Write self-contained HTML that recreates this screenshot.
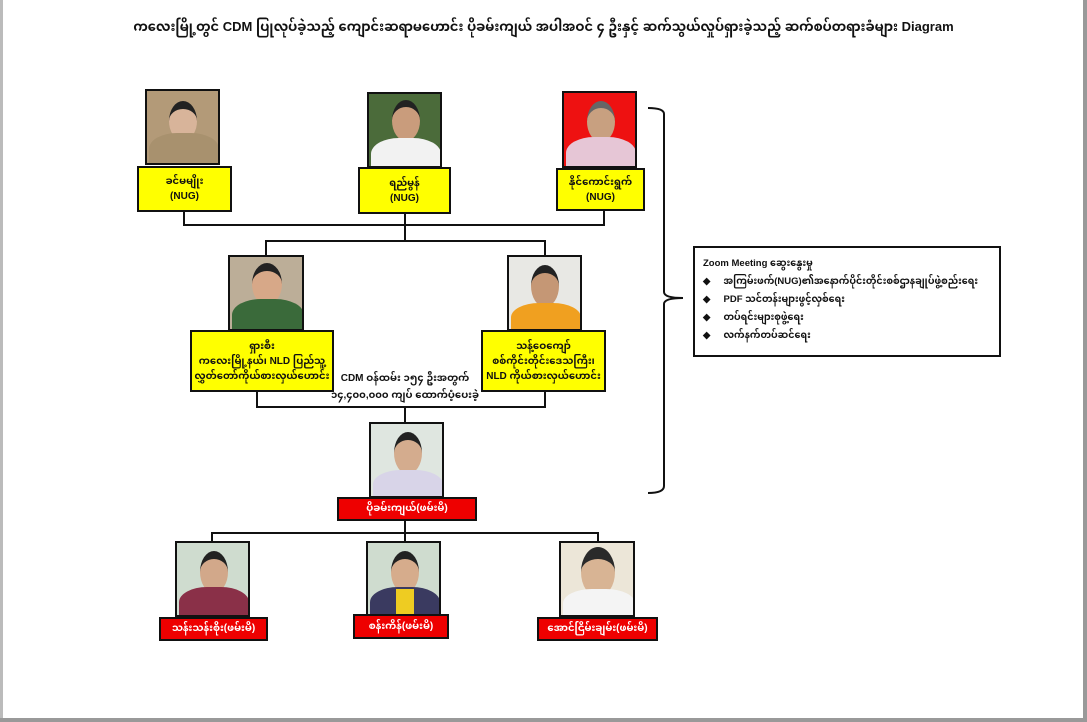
<!DOCTYPE html>
<html><head><meta charset="utf-8">
<style>
body{margin:0;width:1087px;height:722px;background:#fff;position:relative;overflow:hidden;font-family:"Liberation Sans","Noto Sans Myanmar","Padauk","Myanmar Text",sans-serif;}
.a{position:absolute;box-sizing:border-box;}
.ph{position:absolute;box-sizing:border-box;border:2px solid #111;overflow:hidden;}
.hd{position:absolute;border-radius:50%;}
.bd{position:absolute;border-radius:40% 40% 0 0;}
.y{position:absolute;box-sizing:border-box;background:#ffff00;border:2px solid #111;font-size:10px;font-weight:bold;text-align:center;display:flex;flex-direction:column;justify-content:center;line-height:15px;color:#111;}
.r{position:absolute;box-sizing:border-box;background:#ee0000;border:2px solid #111;font-size:10px;font-weight:bold;text-align:center;color:#fff;display:flex;align-items:center;justify-content:center;}
.h{position:absolute;height:2px;background:#111;}
.v{position:absolute;width:2px;background:#111;}
.zb div{white-space:nowrap;}
</style></head><body>
<div class="a" style="left:0;top:0;width:3px;height:722px;background:#bbb"></div>
<div class="a" style="left:1083px;top:0;width:4px;height:722px;background:#999"></div>
<div class="a" style="left:0;top:718px;width:1087px;height:4px;background:#999"></div>

<div class="a" style="left:0;top:15px;width:1087px;text-align:center;font-size:13px;font-weight:bold;color:#111;white-space:nowrap">ကလေးမြို့တွင် CDM ပြုလုပ်ခဲ့သည့် ကျောင်းဆရာမဟောင်း ပိုခမ်းကျယ် အပါအဝင် ၄ ဦးနှင့် ဆက်သွယ်လှုပ်ရှားခဲ့သည့် ဆက်စပ်တရားခံများ Diagram</div>

<!-- connectors -->
<div class="v" style="left:183px;top:211px;height:15px"></div>
<div class="v" style="left:404px;top:212px;height:30px"></div>
<div class="v" style="left:603px;top:210px;height:16px"></div>
<div class="h" style="left:183px;top:224px;width:422px"></div>
<div class="h" style="left:265px;top:240px;width:281px"></div>
<div class="v" style="left:265px;top:240px;height:16px"></div>
<div class="v" style="left:544px;top:240px;height:16px"></div>
<div class="v" style="left:256px;top:390px;height:18px"></div>
<div class="v" style="left:544px;top:390px;height:18px"></div>
<div class="h" style="left:256px;top:406px;width:290px"></div>
<div class="v" style="left:404px;top:406px;height:17px"></div>
<div class="v" style="left:404px;top:520px;height:13px"></div>
<div class="h" style="left:211px;top:532px;width:388px"></div>
<div class="v" style="left:211px;top:532px;height:10px"></div>
<div class="v" style="left:404px;top:532px;height:10px"></div>
<div class="v" style="left:597px;top:532px;height:10px"></div>

<!-- top photos -->
<div class="ph" style="left:145px;top:89px;width:75px;height:76px;background:#b39a78">
 <div class="hd" style="left:22px;top:10px;width:28px;height:32px;background:#d8b49a;border-top:8px solid #222"></div>
 <div class="bd" style="left:2px;top:42px;width:70px;height:40px;background:#a8916e"></div></div>
<div class="ph" style="left:367px;top:92px;width:75px;height:76px;background:#4b6b3a">
 <div class="hd" style="left:23px;top:6px;width:28px;height:34px;background:#c99c7c;border-top:7px solid #222"></div>
 <div class="bd" style="left:2px;top:44px;width:70px;height:40px;background:#f2f2f2"></div></div>
<div class="ph" style="left:562px;top:91px;width:75px;height:77px;background:#ee1111">
 <div class="hd" style="left:23px;top:8px;width:28px;height:34px;background:#c8a080;border-top:7px solid #666"></div>
 <div class="bd" style="left:2px;top:44px;width:70px;height:40px;background:#e6c6d6"></div></div>

<div class="y" style="left:137px;top:166px;width:95px;height:46px">ခင်မမျိုး<br>(NUG)</div>
<div class="y" style="left:358px;top:167px;width:93px;height:47px">ရည်မွန်<br>(NUG)</div>
<div class="y" style="left:556px;top:168px;width:89px;height:43px">နိုင်ကောင်းရွက်<br>(NUG)</div>

<!-- mid photos -->
<div class="ph" style="left:228px;top:255px;width:76px;height:76px;background:#bcae98">
 <div class="hd" style="left:22px;top:6px;width:30px;height:34px;background:#d7a888;border-top:8px solid #222"></div>
 <div class="bd" style="left:2px;top:42px;width:72px;height:40px;background:#3a6a3a"></div></div>
<div class="ph" style="left:507px;top:255px;width:75px;height:76px;background:#e8e8e4">
 <div class="hd" style="left:22px;top:8px;width:28px;height:34px;background:#c59775;border-top:8px solid #222"></div>
 <div class="bd" style="left:2px;top:46px;width:70px;height:36px;background:#f0a020"></div></div>

<div class="y" style="left:190px;top:330px;width:144px;height:62px">ရှားစီး<br>ကလေးမြို့နယ်၊ NLD ပြည်သူ့<br>လွှတ်တော်ကိုယ်စားလှယ်ဟောင်း</div>
<div class="y" style="left:481px;top:330px;width:125px;height:62px">သန့်ဝေကျော်<br>စစ်ကိုင်းတိုင်းဒေသကြီး၊<br>NLD ကိုယ်စားလှယ်ဟောင်း</div>

<div class="a" style="left:320px;top:370px;width:170px;text-align:center;font-size:10px;font-weight:bold;line-height:17px;color:#111">CDM ဝန်ထမ်း ၁၅၄ ဦးအတွက်<br>၁၄,၄၀၀,၀၀၀  ကျပ် ထောက်ပံ့ပေးခဲ့</div>

<!-- center -->
<div class="ph" style="left:369px;top:422px;width:75px;height:76px;background:#dfe6e0">
 <div class="hd" style="left:23px;top:8px;width:28px;height:34px;background:#d4ac8e;border-top:8px solid #222"></div>
 <div class="bd" style="left:2px;top:46px;width:70px;height:36px;background:#d8d4e8"></div></div>
<div class="r" style="left:337px;top:497px;width:140px;height:24px">ပိုခမ်းကျယ်(ဖမ်းမိ)</div>

<!-- bottom photos -->
<div class="ph" style="left:175px;top:541px;width:75px;height:76px;background:#cfdccf">
 <div class="hd" style="left:23px;top:8px;width:28px;height:34px;background:#d2a88a;border-top:8px solid #222"></div>
 <div class="bd" style="left:2px;top:44px;width:70px;height:38px;background:#8a3048"></div></div>
<div class="ph" style="left:366px;top:541px;width:75px;height:75px;background:#cfdccf">
 <div class="hd" style="left:23px;top:8px;width:28px;height:34px;background:#d6ac8c;border-top:8px solid #222"></div>
 <div class="bd" style="left:2px;top:44px;width:70px;height:38px;background:#3a3a60"></div>
 <div class="a" style="left:28px;top:46px;width:18px;height:30px;background:#eecc22"></div></div>
<div class="ph" style="left:559px;top:541px;width:76px;height:76px;background:#ece6d8">
 <div class="hd" style="left:20px;top:4px;width:34px;height:38px;background:#d8b494;border-top:12px solid #2a2a2a"></div>
 <div class="bd" style="left:2px;top:46px;width:72px;height:36px;background:#f4f4f4"></div></div>

<div class="r" style="left:159px;top:617px;width:109px;height:24px">သန်းသန်းစိုး(ဖမ်းမိ)</div>
<div class="r" style="left:353px;top:614px;width:96px;height:25px">စန်းကိန်(ဖမ်းမိ)</div>
<div class="r" style="left:537px;top:617px;width:121px;height:24px">အောင်ငြိမ်းချမ်း(ဖမ်းမိ)</div>

<!-- brace -->
<svg class="a" style="left:640px;top:100px" width="50" height="400">
<path d="M8 8 Q24 8 24 14 L24 192 Q24 198 43 198 Q24 198 24 204 L24 386 Q24 393 8 393" fill="none" stroke="#111" stroke-width="2"/>
</svg>

<div class="a zb" style="left:693px;top:246px;width:308px;height:111px;border:2px solid #111;padding:7px 8px;font-size:9.5px;font-weight:bold;line-height:18px;color:#111">
<div>Zoom Meeting ဆွေးနွေးမှု</div>
<div>◆&nbsp;&nbsp;&nbsp;&nbsp; အကြမ်းဖက်(NUG)၏အနောက်ပိုင်းတိုင်းစစ်ဌာနချုပ်ဖွဲ့စည်းရေး</div>
<div>◆&nbsp;&nbsp;&nbsp;&nbsp; PDF သင်တန်းများဖွင့်လှစ်ရေး</div>
<div>◆&nbsp;&nbsp;&nbsp;&nbsp; တပ်ရင်းများစုဖွဲ့ရေး</div>
<div>◆&nbsp;&nbsp;&nbsp;&nbsp; လက်နက်တပ်ဆင်ရေး</div>
</div>
</body></html>
